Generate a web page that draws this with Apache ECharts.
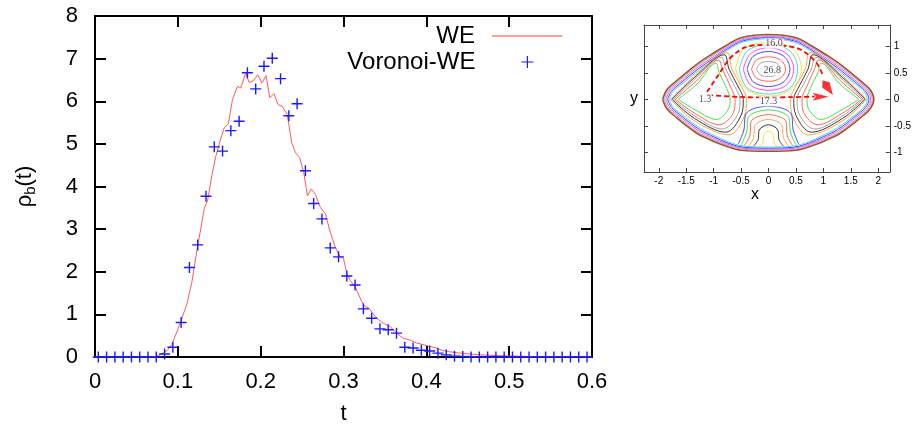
<!DOCTYPE html>
<html>
<head>
<meta charset="utf-8">
<script src="https://cdn.jsdelivr.net/npm/echarts@6/dist/echarts.min.js"></script>
<style>html,body{margin:0;padding:0;background:#fff}#c{width:914px;height:430px}</style>
</head>
<body>
<div id="c"></div>
<script>
// ---------- main chart data ----------
const xTicks = [0, 0.1, 0.2, 0.3, 0.4, 0.5, 0.6];
const yTicks = [0, 1, 2, 3, 4, 5, 6, 7, 8];

const weT = [0,0.07,0.0785,0.087,0.093,0.099,0.105,0.111,0.117,0.123,0.127,0.132,0.136,0.141,0.146,0.151,0.156,0.161,0.166,0.172,0.176,0.182,0.186,0.191,0.1965,0.2015,0.2065,0.211,0.216,0.221,0.226,0.232,0.2375,0.242,0.247,0.252,0.2565,0.261,0.266,0.272,0.278,0.284,0.290,0.296,0.300,0.304,0.308,0.315,0.322,0.326,0.330,0.340,0.348,0.356,0.364,0.372,0.380,0.388,0.396,0.404,0.412,0.420,0.429,0.441,0.453,0.465,0.49,0.53,0.6];
const weV = [0,0,0.05,0.15,0.30,0.60,0.91,1.25,1.76,2.50,2.93,3.49,3.67,4.25,4.72,5.07,5.38,5.47,6.04,6.35,6.31,6.66,6.44,6.48,6.62,6.43,6.60,6.08,6.18,5.92,5.88,5.69,5.03,4.79,4.68,4.33,3.78,3.94,3.82,3.51,3.36,2.93,2.58,2.35,2.31,1.96,1.80,1.61,1.30,1.18,1.16,0.91,0.79,0.72,0.56,0.44,0.40,0.33,0.29,0.25,0.21,0.15,0.12,0.09,0.07,0.05,0.03,0.01,0];

const vorT = [0.004,0.014,0.024,0.034,0.044,0.054,0.064,0.074,0.084,0.094,0.104,0.114,0.124,0.134,0.144,0.154,0.164,0.174,0.184,0.194,0.204,0.214,0.224,0.234,0.244,0.254,0.264,0.274,0.284,0.294,0.304,0.314,0.324,0.334,0.344,0.354,0.364,0.374,0.384,0.394,0.404,0.414,0.424,0.434,0.444,0.454,0.464,0.474,0.484,0.494,0.504,0.514,0.524,0.534,0.544,0.554,0.564,0.574,0.584,0.594];
const vorV = [0,0,0,0,0,0,0,0,0.07,0.23,0.81,2.10,2.63,3.77,4.93,4.83,5.31,5.53,6.67,6.29,6.82,7.01,6.53,5.66,5.94,4.37,3.60,3.24,2.56,2.35,1.90,1.69,1.13,0.91,0.66,0.64,0.56,0.23,0.21,0.16,0.14,0.09,0.05,0.02,0.01,0,0,0,0,0,0,0,0,0,0,0,0,0,0,0];

// ---------- inset data ----------
const insetXTicks = [-2, -1.5, -1, -0.5, 0, 0.5, 1, 1.5, 2];
const insetYTicks = [-1, -0.5, 0, 0.5, 1];

const ring0 = [[-1.93,0],[-1.86,0.17],[-1.72,0.31],[-1.32,0.65],[-1.05,0.84],[-0.78,1.01],[-0.5,1.16],[0,1.22],[0.5,1.16],[0.78,1.01],[1.05,0.84],[1.32,0.65],[1.72,0.31],[1.86,0.17],[1.92,0],[1.86,-0.17],[1.72,-0.31],[1.32,-0.63],[1.05,-0.77],[0.78,-0.88],[0.5,-0.96],[0,-0.98],[-0.5,-0.96],[-0.78,-0.88],[-1.05,-0.77],[-1.32,-0.63],[-1.72,-0.31],[-1.86,-0.17],[-1.93,0]];
const ring1 = [[-1.90,0],[-1.83,0.16],[-1.69,0.30],[-1.30,0.63],[-1.03,0.82],[-0.77,0.99],[-0.49,1.14],[0,1.20],[0.49,1.14],[0.77,0.99],[1.03,0.82],[1.30,0.63],[1.69,0.30],[1.83,0.16],[1.89,0],[1.83,-0.16],[1.69,-0.30],[1.30,-0.61],[1.03,-0.75],[0.77,-0.86],[0.49,-0.94],[0,-0.96],[-0.49,-0.94],[-0.77,-0.86],[-1.03,-0.75],[-1.30,-0.61],[-1.69,-0.30],[-1.83,-0.16],[-1.90,0]];
const ring2 = [[-1.87,0],[-1.80,0.16],[-1.66,0.29],[-1.28,0.61],[-1.01,0.80],[-0.76,0.97],[-0.48,1.12],[0,1.18],[0.48,1.12],[0.76,0.97],[1.01,0.80],[1.28,0.61],[1.66,0.29],[1.80,0.16],[1.86,0],[1.80,-0.16],[1.66,-0.29],[1.28,-0.59],[1.01,-0.73],[0.76,-0.84],[0.48,-0.92],[0,-0.94],[-0.48,-0.92],[-0.76,-0.84],[-1.01,-0.73],[-1.28,-0.59],[-1.66,-0.29],[-1.80,-0.16],[-1.87,0]];
const ring3 = [[-1.84,0],[-1.77,0.15],[-1.63,0.28],[-1.26,0.59],[-0.99,0.78],[-0.75,0.95],[-0.47,1.10],[0,1.16],[0.47,1.10],[0.75,0.95],[0.99,0.78],[1.26,0.59],[1.63,0.28],[1.77,0.15],[1.83,0],[1.77,-0.15],[1.63,-0.28],[1.26,-0.57],[0.99,-0.71],[0.75,-0.82],[0.47,-0.90],[0,-0.92],[-0.47,-0.90],[-0.75,-0.82],[-0.99,-0.71],[-1.26,-0.57],[-1.63,-0.28],[-1.77,-0.15],[-1.84,0]];
const ring4 = [[-1.81,0],[-1.74,0.15],[-1.60,0.27],[-1.24,0.57],[-0.97,0.76],[-0.74,0.93],[-0.46,1.08],[0,1.14],[0.46,1.08],[0.74,0.93],[0.97,0.76],[1.24,0.57],[1.60,0.27],[1.74,0.15],[1.80,0],[1.74,-0.15],[1.60,-0.27],[1.24,-0.55],[0.97,-0.69],[0.74,-0.80],[0.46,-0.88],[0,-0.90],[-0.46,-0.88],[-0.74,-0.80],[-0.97,-0.69],[-1.24,-0.55],[-1.60,-0.27],[-1.74,-0.15],[-1.81,0]];

const lobeL1 = [[-1.65,0],[-1.3,0.29],[-0.96,0.68],[-0.9,0.5],[-0.76,0.2],[-0.70,0],[-0.74,-0.2],[-0.95,-0.38],[-1.3,-0.22],[-1.65,0]];
const lobeL2 = [[-1.70,0],[-1.32,0.34],[-0.91,0.74],[-0.84,0.57],[-0.70,0.25],[-0.61,0],[-0.64,-0.25],[-0.90,-0.48],[-1.32,-0.28],[-1.70,0]];
const lobeL3 = [[-1.73,0],[-1.34,0.38],[-0.86,0.79],[-0.78,0.57],[-0.62,0.25],[-0.52,0],[-0.56,-0.28],[-0.84,-0.56],[-1.34,-0.32],[-1.73,0]];
const lobeL4 = [[-1.76,0],[-1.35,0.41],[-0.81,0.84],[-0.72,0.57],[-0.56,0.25],[-0.46,0],[-0.50,-0.30],[-0.78,-0.62],[-1.35,-0.36],[-1.76,0]];
const lobeL5 = [[-1.785,0],[-1.35,0.44],[-0.76,0.88],[-0.67,0.57],[-0.50,0.25],[-0.40,0],[-0.44,-0.32],[-0.72,-0.67],[-1.36,-0.40],[-1.785,0]];
const lobeR1 = [[1.65,0],[1.3,0.29],[0.96,0.68],[0.9,0.5],[0.76,0.2],[0.70,0],[0.74,-0.2],[0.95,-0.38],[1.3,-0.22],[1.65,0]];
const lobeR2 = [[1.70,0],[1.32,0.34],[0.91,0.74],[0.84,0.57],[0.70,0.25],[0.61,0],[0.64,-0.25],[0.90,-0.48],[1.32,-0.28],[1.70,0]];
const lobeR3 = [[1.73,0],[1.34,0.38],[0.86,0.79],[0.78,0.57],[0.62,0.25],[0.52,0],[0.56,-0.28],[0.84,-0.56],[1.34,-0.32],[1.73,0]];
const lobeR4 = [[1.76,0],[1.35,0.41],[0.81,0.84],[0.72,0.57],[0.56,0.25],[0.46,0],[0.50,-0.30],[0.78,-0.62],[1.35,-0.36],[1.76,0]];
const lobeR5 = [[1.785,0],[1.35,0.44],[0.76,0.88],[0.67,0.57],[0.50,0.25],[0.40,0],[0.44,-0.32],[0.72,-0.67],[1.36,-0.40],[1.785,0]];

const oval1 = [[-0.22,0.57],[-0.15,0.68],[0,0.71],[0.15,0.68],[0.22,0.57],[0.15,0.46],[0,0.43],[-0.15,0.46],[-0.22,0.57]];
const oval2 = [[-0.31,0.57],[-0.22,0.74],[0,0.80],[0.22,0.74],[0.31,0.57],[0.22,0.40],[0,0.34],[-0.22,0.40],[-0.31,0.57]];
const oval3 = [[-0.39,0.57],[-0.28,0.81],[0,0.90],[0.28,0.81],[0.39,0.57],[0.28,0.33],[0,0.24],[-0.28,0.33],[-0.39,0.57]];
const oval4 = [[-0.46,0.57],[-0.33,0.86],[0,0.97],[0.33,0.86],[0.46,0.57],[0.33,0.27],[0,0.17],[-0.33,0.27],[-0.46,0.57]];
const oval5 = [[-0.53,0.57],[-0.39,0.91],[0,1.03],[0.39,0.91],[0.53,0.57],[0.40,0.22],[0,0.10],[-0.40,0.22],[-0.53,0.57]];
const oval6 = [[-0.60,0.57],[-0.45,0.95],[0,1.07],[0.45,0.95],[0.60,0.57],[0.42,0.20],[0,0.06],[-0.42,0.20],[-0.60,0.57]];

const arch1 = [[-0.15,-0.89],[-0.10,-0.80],[-0.09,-0.68],[0,-0.60],[0.09,-0.68],[0.10,-0.80],[0.15,-0.89]];
const arch2 = [[-0.27,-0.88],[-0.19,-0.76],[-0.17,-0.58],[0,-0.48],[0.17,-0.58],[0.19,-0.76],[0.27,-0.88]];
const arch3 = [[-0.36,-0.875],[-0.27,-0.72],[-0.25,-0.50],[0,-0.38],[0.25,-0.50],[0.27,-0.72],[0.36,-0.875]];
const arch4 = [[-0.44,-0.87],[-0.34,-0.68],[-0.32,-0.42],[0,-0.29],[0.32,-0.42],[0.34,-0.68],[0.44,-0.87]];
const arch5 = [[-0.50,-0.86],[-0.40,-0.62],[-0.37,-0.34],[0,-0.20],[0.37,-0.34],[0.40,-0.62],[0.50,-0.86]];
const arch6 = [[-0.55,-0.84],[-0.45,-0.58],[-0.41,-0.27],[0,-0.13],[0.41,-0.27],[0.45,-0.58],[0.55,-0.84]];

const contourLines = [ring0,ring1,ring2,ring3,ring4,
  lobeL1,lobeL2,lobeL3,lobeL4,lobeL5,lobeR1,lobeR2,lobeR3,lobeR4,lobeR5,
  oval1,oval2,oval3,oval4,oval5,oval6,
  arch1,arch2,arch3,arch4,arch5,arch6];

const pathDirect = [[-1.10,0.08],[-0.43,0.04],[0,0.035],[0.40,0.04],[0.84,0.05]];
const pathTop = [[-1.12,0.14],[-0.92,0.45],[-0.73,0.74],[-0.61,0.86],[-0.43,0.98],[-0.2,1.02],[0.1,1.03],[0.35,1.0],[0.53,0.96],[0.70,0.86],[0.88,0.68],[0.98,0.48]];
const arrowHeads = [[0.95,0.05],[1.08,0.22]];
const levelLabels = [['1.3',-1.16,0.0],['16.0',0.10,1.05],['26.8',0.07,0.54],['17.3',0.0,-0.04]];

// ---------- styles (kept apart from data) ----------
const FONT = 'Liberation Sans';
const contourColors = ['#a0522d','#999999','#ff33ff','#3333ff','#33d6d6',
  '#33dd33','#ff5544','#999999','#222222','#ff9933',
  '#33dd33','#ff5544','#999999','#222222','#ff9933',
  '#999999','#ff5544','#3333ff','#ff33ff','#33d6d6','#e6e033',
  '#e6e033','#222222','#ff9933','#ff5544','#33dd33','#3333ff'];
const contourWidths = [1.6,0.9,0.9,0.9,0.9, 0.9,0.9,0.9,0.9,0.9, 0.9,0.9,0.9,0.9,0.9, 0.9,0.9,0.9,0.9,0.9,0.9, 0.9,0.9,0.9,0.9,0.9,0.9];

const crossPath = 'path://M0,5H10M5,0V10';

const series = [];
series.push({
  name: 'WE', type: 'line', xAxisIndex: 0, yAxisIndex: 0,
  data: weT.map((t, i) => [t, weV[i]]),
  symbol: 'none', showSymbol: false,
  lineStyle: { color: '#ff5a5a', width: 1 }, itemStyle: { color: '#ff7070' },
  z: 3
});
series.push({
  name: 'Voronoi-WE', type: 'scatter', xAxisIndex: 0, yAxisIndex: 0,
  data: vorT.map((t, i) => [t, vorV[i]]),
  symbol: crossPath, symbolSize: 11, clip: false,
  itemStyle: { color: 'transparent', borderColor: '#1a1aff', borderWidth: 1.4, opacity: 1 },
  z: 4
});
contourLines.forEach((pts, i) => {
  series.push({
    type: 'line', xAxisIndex: 2, yAxisIndex: 2, data: pts,
    symbol: 'none', showSymbol: false, smooth: 0.35, silent: true,
    lineStyle: { color: contourColors[i], width: contourWidths[i] }, z: 2
  });
});
[pathDirect, pathTop].forEach(p => {
  series.push({
    type: 'line', xAxisIndex: 2, yAxisIndex: 2, data: p,
    symbol: 'none', showSymbol: false, smooth: 0.3, silent: true,
    lineStyle: { color: '#ff0000', width: 1.8, type: [5, 3] }, z: 5
  });
});
series.push({
  type: 'scatter', xAxisIndex: 2, yAxisIndex: 2, silent: true, z: 6,
  data: [
    { value: arrowHeads[0], symbol: 'path://M0,0L14,4L0,8L3,4Z', symbolSize: [16, 8], symbolRotate: 0 },
    { value: arrowHeads[1], symbol: 'path://M0,4L5,0L16,4L5,8Z', symbolSize: [18, 9], symbolRotate: -55 }
  ],
  itemStyle: { color: '#ff0000' }
});
series.push({
  type: 'scatter', xAxisIndex: 2, yAxisIndex: 2, silent: true, z: 7,
  data: levelLabels.map(d => ({ name: d[0], value: [d[1], d[2]] })),
  symbolSize: 1, itemStyle: { color: 'transparent' },
  label: { show: true, position: 'inside', formatter: '{b}', fontSize: 10, fontFamily: 'Liberation Serif',
           color: '#222', backgroundColor: '#ffffff', padding: [0, 1] }
});

const mainAxisLine = { show: true, onZero: false, lineStyle: { color: '#000', width: 2 } };
const mainTick = { show: true, inside: true, length: 11, lineStyle: { color: '#000', width: 2 } };
const insetAxisLine = { show: true, onZero: false, lineStyle: { color: '#444', width: 1 } };
const legendText = { fontSize: 24, fontFamily: FONT, color: '#000' };

const option = {
  animation: false,
  backgroundColor: '#ffffff',
  textStyle: { fontFamily: FONT },
  grid: [
    { left: 95, right: 322, top: 16, bottom: 71 },
    { left: 644, right: 20, top: 25, bottom: 258 }
  ],
  legend: [
    { data: [{ name: 'WE', icon: 'rect', itemStyle: { color: '#ff7a7a' } }],
      right: 352, top: 24, orient: 'vertical', align: 'right', padding: 0,
      itemWidth: 70, itemHeight: 1.3, selectedMode: false,
      textStyle: Object.assign({ padding: [0, 12, 0, 0] }, legendText) },
    { data: [{ name: 'Voronoi-WE', icon: crossPath,
               itemStyle: { color: 'transparent', borderColor: '#1a1aff', borderWidth: 1.2 } }],
      right: 380, top: 50, orient: 'vertical', align: 'right', padding: 0,
      itemWidth: 12, itemHeight: 12, selectedMode: false,
      textStyle: Object.assign({ padding: [0, 41, 0, 0] }, legendText) }
  ],
  xAxis: [
    { type: 'value', gridIndex: 0, min: xTicks[0], max: xTicks[xTicks.length - 1], interval: 0.1,
      axisLine: mainAxisLine, axisTick: mainTick, splitLine: { show: false },
      axisLabel: { fontSize: 22, color: '#000', margin: 14, fontFamily: FONT },
      name: 't', nameLocation: 'middle', nameGap: 46,
      nameTextStyle: { fontSize: 22, color: '#000', fontFamily: FONT } },
    { type: 'value', gridIndex: 0, position: 'top', min: xTicks[0], max: xTicks[xTicks.length - 1], interval: 0.1,
      axisLine: mainAxisLine, axisTick: mainTick, splitLine: { show: false }, axisLabel: { show: false } },
    { type: 'value', gridIndex: 1, min: -2.27, max: 2.21,
      axisLine: insetAxisLine, splitLine: { show: false },
      axisTick: { show: true, inside: true, length: 4, customValues: insetXTicks, lineStyle: { color: '#444' } },
      axisLabel: { show: true, customValues: insetXTicks, fontSize: 10, color: '#000', margin: 4 },
      name: 'x', nameLocation: 'middle', nameGap: 9,
      nameTextStyle: { fontSize: 16, color: '#000', padding: [0, 24, 0, 0] } },
    { type: 'value', gridIndex: 1, position: 'top', min: -2.27, max: 2.21,
      axisLine: insetAxisLine, splitLine: { show: false },
      axisTick: { show: true, inside: true, length: 4, customValues: insetXTicks, lineStyle: { color: '#444' } },
      axisLabel: { show: false } }
  ],
  yAxis: [
    { type: 'value', gridIndex: 0, min: yTicks[0], max: yTicks[yTicks.length - 1], interval: 1,
      axisLine: mainAxisLine, axisTick: mainTick, splitLine: { show: false },
      axisLabel: { fontSize: 22, color: '#000', margin: 17, fontFamily: FONT },
      name: '{a|ρ}{b|b}{a|(t)}', nameLocation: 'middle', nameGap: 57, nameRotate: 90,
      nameTextStyle: { color: '#000', fontFamily: FONT,
        rich: { a: { fontSize: 22, fontFamily: FONT, color: '#000' },
                b: { fontSize: 15, fontFamily: FONT, color: '#000', padding: [12, 0, 0, 0] } } } },
    { type: 'value', gridIndex: 0, position: 'right', min: yTicks[0], max: yTicks[yTicks.length - 1], interval: 1,
      axisLine: mainAxisLine, axisTick: mainTick, splitLine: { show: false }, axisLabel: { show: false } },
    { type: 'value', gridIndex: 1, min: -1.37, max: 1.40,
      axisLine: insetAxisLine, splitLine: { show: false },
      axisTick: { show: true, inside: true, length: 4, customValues: insetYTicks, lineStyle: { color: '#444' } },
      axisLabel: { show: false },
      name: 'y', nameLocation: 'middle', nameGap: 6, nameRotate: 0,
      nameTextStyle: { fontSize: 16, color: '#000' } },
    { type: 'value', gridIndex: 1, position: 'right', min: -1.37, max: 1.40,
      axisLine: insetAxisLine, splitLine: { show: false },
      axisTick: { show: true, inside: true, length: 4, customValues: insetYTicks, lineStyle: { color: '#444' } },
      axisLabel: { show: true, customValues: insetYTicks, fontSize: 10, color: '#000', margin: 4 } }
  ],
  series: series
};

const chart = echarts.init(document.getElementById('c'), null, { renderer: 'canvas' });
chart.setOption(option);
</script>
</body>
</html>
